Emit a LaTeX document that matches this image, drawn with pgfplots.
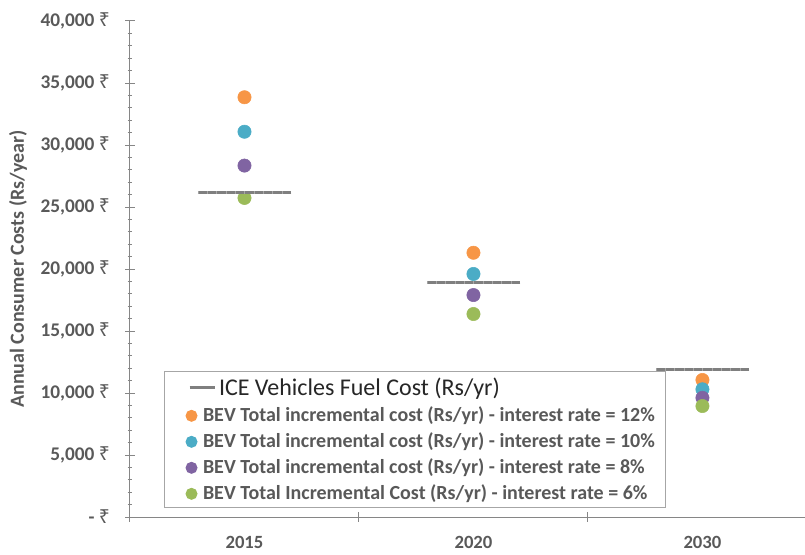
\documentclass[border=0pt]{standalone}
\usepackage{fontspec}
\setmainfont{Carlito}
\newfontfamily\rupeefont{Noto Sans}
\usepackage{pgfplots}
\usepackage{pgfplotstable}
\pgfplotsset{compat=1.18}

\definecolor{txtgray}{HTML}{595959}
\definecolor{axgray}{HTML}{868686}
\definecolor{legGray}{HTML}{A6A6A6}
\definecolor{iceGray}{HTML}{7F7F7F}
\definecolor{iceLight}{HTML}{A8A8A8}
\definecolor{cOrange}{HTML}{F79646}
\definecolor{cBlue}{HTML}{4BACC6}
\definecolor{cPurple}{HTML}{8064A2}
\definecolor{cGreen}{HTML}{9BBB59}
\newcommand{\rs}{{\rupeefont ₹}}
% fixed row box for legend texts: [height][depth]
\newcommand{\legrow}[3]{\raisebox{0pt}[#1][#2]{#3}}

% categories: 0 = 2015, 1 = 2020, 2 = 2030
\pgfplotstableread{
x  ice    r12    r10    r8     r6
0  26150  33850  31070  28340  25730
1  18930  21310  19600  17900  16370
2  11880  11050  10300  9610   8950
}\costs

\begin{document}
\begin{tikzpicture}
\begin{axis}[
  scale only axis,
  width=506.25pt, height=372pt,
  xmin=-0.5, xmax=2.448, ymin=0, ymax=40000,
  axis x line*=bottom, axis y line*=left,
  axis line style={axgray, line width=0.75pt, -},
  tick style={axgray, line width=0.75pt},
  tick align=center,
  major tick length=7pt, minor tick length=3.5pt,
  scaled y ticks=false,
  ytick={0,5000,...,40000},
  yticklabels={{- \rs},{5,000 \rs},{10,000 \rs},{15,000 \rs},{20,000 \rs},{25,000 \rs},{30,000 \rs},{35,000 \rs},{40,000 \rs}},
  minor y tick num=4,
  yticklabel style={font=\bfseries\fontsize{14.5}{16}\selectfont, text=txtgray, xshift=-8pt},
  xtick={-0.5,0.5,1.5},
  xticklabels={},
  extra x ticks={0,1,2},
  extra x tick labels={2015,2020,2030},
  extra x tick style={major tick length=0pt,
    xticklabel style={font=\bfseries\fontsize{14}{16}\selectfont, text=txtgray, yshift=-11pt}},
  every axis y label/.style={at={(axis description cs:-0.166,0.5)}, rotate=90, anchor=center,
    font=\bfseries\fontsize{15}{17}\selectfont, text=txtgray},
  ylabel={Annual Consumer Costs (Rs/year)},
  legend cell align=left,
  legend style={at={(0.0504,0.2944)}, anchor=north west, draw=legGray, line width=0.75pt, fill=white,
    font=\bfseries\fontsize{15}{17}\selectfont, text=txtgray,
    inner xsep=6pt, inner ysep=2pt, row sep=3.5pt},
  clip=false,
]
% ICE fuel cost: horizontal dash per year (legend entry)
\addplot[iceGray, only marks, mark=-, mark size=35pt, mark options={solid, line width=2.25pt},
  legend image code/.code={\path[draw=none] (-12.75pt,0) (19pt,0);
    \draw[iceGray, line width=2.25pt] (0pt,0) -- (19pt,0);}]
  table[x=x, y=ice] {\costs};
\addlegendentry{\legrow{14.25pt}{-1.5pt}{\mdseries\fontsize{18}{20}\selectfont\color{black!85}ICE Vehicles Fuel Cost (Rs/yr)}}

\pgfplotsset{bevleg/.style={legend image code/.code={\path[draw=none] (-12.75pt,0) (19pt,0);
    \draw[mark size=4.1pt] plot coordinates {(1.5pt,0pt)};}}}
\addplot[cOrange, only marks, mark=*, mark size=5pt, bevleg]
  table[x=x, y=r12] {\costs};
\addlegendentry{\hspace*{-12pt}\legrow{10.5pt}{3.5pt}{BEV Total incremental cost (Rs/yr) - interest rate = 12\%}}
\addplot[cBlue, only marks, mark=*, mark size=5pt, bevleg]
  table[x=x, y=r10] {\costs};
\addlegendentry{\hspace*{-12pt}\legrow{10.5pt}{3.5pt}{BEV Total incremental cost (Rs/yr) - interest rate = 10\%}}
\addplot[cPurple, only marks, mark=*, mark size=5pt, bevleg]
  table[x=x, y=r8] {\costs};
\addlegendentry{\hspace*{-12pt}\legrow{10.5pt}{3.5pt}{BEV Total incremental cost (Rs/yr) - interest rate = 8\%}}
\addplot[cGreen, only marks, mark=*, mark size=5pt, bevleg]
  table[x=x, y=r6] {\costs};
\addlegendentry{\hspace*{-12pt}\legrow{10.5pt}{3.5pt}{BEV Total Incremental Cost (Rs/yr) - interest rate = 6\%}}

% ICE dashes redrawn above the markers
\addplot[forget plot, iceLight, only marks, mark=-, mark size=35pt, mark options={solid, line width=2.25pt}]
  table[x=x, y=ice] {\costs};
\addplot[forget plot, iceGray, only marks, mark=-, mark size=35pt,
  mark options={line width=2.25pt, dash pattern=on 6.3pt off 0.7pt}]
  table[x=x, y=ice] {\costs};
\end{axis}
\pgfresetboundingbox
\path (-97.5pt,-27.75pt) rectangle (506.25pt,387.75pt);
\end{tikzpicture}
\end{document}
